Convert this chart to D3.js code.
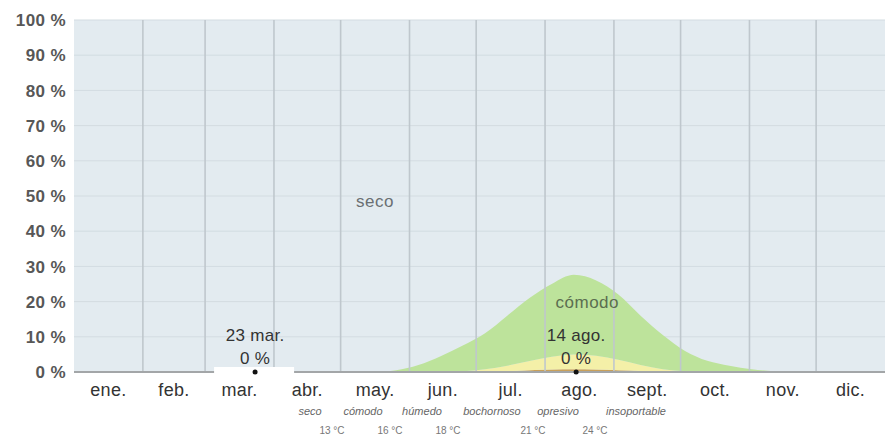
<!DOCTYPE html>
<html>
<head>
<meta charset="utf-8">
<script src="https://cdn.jsdelivr.net/npm/d3@7"></script>
<style>
	body { margin: 0; background: #fff; }
	text { font-family: "Liberation Sans", Arial, sans-serif; }
</style>
</head>
<body>
<div id="chart"></div>
<script>
// day of year samples and % of time per humidity level
var days = [0, 135, 145, 155, 165, 175, 185, 195, 205, 215, 225, 235, 245, 255, 265, 275, 285, 295, 305, 315, 325, 365];
var comodo = [0, 0, 0.5, 2, 4.5, 7.3, 10.2, 14.2, 17.9, 20.7, 22.6, 21.4, 18.5, 14, 9.7, 5.8, 3.2, 1.8, 0.8, 0.2, 0, 0];
var humedo = [0, 0, 0, 0, 0, 0.2, 0.8, 1.6, 2.6, 3.6, 4.2, 3.9, 3.0, 1.7, 0.7, 0.2, 0, 0, 0, 0, 0, 0];
var bochornoso = [0, 0, 0, 0, 0, 0, 0, 0.2, 0.5, 0.7, 0.8, 0.7, 0.5, 0.3, 0.1, 0, 0, 0, 0, 0, 0, 0];

var months = ["ene.", "feb.", "mar.", "abr.", "may.", "jun.", "jul.", "ago.", "sept.", "oct.", "nov.", "dic."];
var monthStart = [0, 31, 59, 90, 120, 151, 181, 212, 243, 273, 304, 334, 365];
var yTicks = [0, 10, 20, 30, 40, 50, 60, 70, 80, 90, 100];

var levels = ["seco", "cómodo", "húmedo", "bochornoso", "opresivo", "insoportable"];
var levelX = [310, 363, 422, 492, 558, 636];
var dewPoints = ["13 °C", "16 °C", "18 °C", "21 °C", "24 °C"];
var dewX = [332, 390, 448, 533, 595];

var markers = [{day: 81.5, label: "23 mar.", value: 0}, {day: 226, label: "14 ago.", value: 0}];

var W = 885, H = 436;
var margin = {top: 20, right: 0, bottom: 64, left: 74};
var width = W - margin.left - margin.right;
var height = H - margin.top - margin.bottom;

var svg = d3.select("#chart").append("svg")
	.attr("width", W)
	.attr("height", H);

var g = svg.append("g")
	.attr("transform", "translate(" + margin.left + "," + margin.top + ")");

var x = d3.scaleLinear().domain([0, 365]).range([0, width]);
var y = d3.scaleLinear().domain([0, 100]).range([height, 0]);

// background = seco
g.append("rect")
	.attr("width", width)
	.attr("height", height)
	.attr("fill", "#e3ebf0");

// horizontal grid
g.selectAll(".hgrid")
	.data(yTicks.slice(1))
	.enter().append("line")
	.attr("x1", 0).attr("x2", width)
	.attr("y1", function(d) { return y(d); })
	.attr("y2", function(d) { return y(d); })
	.attr("stroke", "#d3dce1")
	.attr("stroke-width", 1);

// stacked bands
var rows = days.map(function(d, i) {
	return {day: d, bochornoso: bochornoso[i], humedo: humedo[i], comodo: comodo[i]};
});
var stack = d3.stack().keys(["bochornoso", "humedo", "comodo"]);
var series = stack(rows);
var colors = {bochornoso: "#c9a05a", humedo: "#f4f0a8", comodo: "#bde39b"};

var area = d3.area()
	.curve(d3.curveMonotoneX)
	.x(function(d) { return x(d.data.day); })
	.y0(function(d) { return y(d[0]); })
	.y1(function(d) { return y(d[1]); });

g.selectAll(".band")
	.data(series)
	.enter().append("path")
	.attr("class", "band")
	.attr("d", area)
	.attr("fill", function(d) { return colors[d.key]; });

// vertical month lines
g.selectAll(".vgrid")
	.data(monthStart.slice(1, 12))
	.enter().append("line")
	.attr("x1", function(d) { return x(d); })
	.attr("x2", function(d) { return x(d); })
	.attr("y1", 0).attr("y2", height)
	.attr("stroke", "#bfc7cd")
	.attr("stroke-width", 1.6);

// baseline
g.append("line")
	.attr("x1", 0).attr("x2", width)
	.attr("y1", height).attr("y2", height)
	.attr("stroke", "#a3a6a8")
	.attr("stroke-width", 2);

// y axis labels
g.selectAll(".ylab")
	.data(yTicks)
	.enter().append("text")
	.attr("x", -8)
	.attr("y", function(d) { return y(d); })
	.attr("dy", "0.36em")
	.attr("text-anchor", "end")
	.attr("font-size", 17)
	.attr("font-weight", "bold")
	.attr("letter-spacing", 0.4)
	.attr("fill", "#575757")
	.text(function(d) { return d + " %"; });

// month labels
g.selectAll(".mlab")
	.data(months)
	.enter().append("text")
	.attr("x", function(d, i) { return x((monthStart[i] + monthStart[i + 1]) / 2); })
	.attr("y", height + 24)
	.attr("text-anchor", "middle")
	.attr("font-size", 18)
	.attr("letter-spacing", 0.3)
	.attr("fill", "#333")
	.text(function(d) { return d; });

// area labels
g.append("text")
	.attr("x", x(135.5)).attr("y", 187)
	.attr("text-anchor", "middle")
	.attr("font-size", 17)
	.attr("letter-spacing", 0.5)
	.attr("fill", "#6a6f73")
	.text("seco");

g.append("text")
	.attr("x", x(231)).attr("y", 288)
	.attr("text-anchor", "middle")
	.attr("font-size", 17)
	.attr("letter-spacing", 0.5)
	.attr("fill", "#5b6e50")
	.text("cómodo");

// markers
var mk = g.selectAll(".marker")
	.data(markers)
	.enter().append("g")
	.attr("transform", function(d) { return "translate(" + x(d.day) + ",0)"; });

mk.filter(function(d, i) { return i == 0; })
	.append("rect")
	.attr("x", -41).attr("y", height - 5)
	.attr("width", 80).attr("height", 10)
	.attr("fill", "#fff");

mk.append("text")
	.attr("y", height - 31)
	.attr("text-anchor", "middle")
	.attr("font-size", 17)
	.attr("letter-spacing", 0.3)
	.attr("fill", "#333")
	.text(function(d) { return d.label; });

mk.append("text")
	.attr("y", height - 8)
	.attr("text-anchor", "middle")
	.attr("font-size", 17)
	.attr("letter-spacing", 0.3)
	.attr("fill", "#333")
	.text(function(d) { return d.value + " %"; });

mk.append("circle")
	.attr("cx", 0)
	.attr("cy", function(d) { return y(d.value); })
	.attr("r", 2.5)
	.attr("fill", "#111");

// legend below
svg.selectAll(".lev")
	.data(levels)
	.enter().append("text")
	.attr("x", function(d, i) { return levelX[i]; })
	.attr("y", 415)
	.attr("text-anchor", "middle")
	.attr("font-size", 11)
	.attr("font-style", "italic")
	.attr("fill", "#666")
	.text(function(d) { return d; });

svg.selectAll(".dew")
	.data(dewPoints)
	.enter().append("text")
	.attr("x", function(d, i) { return dewX[i]; })
	.attr("y", 434)
	.attr("text-anchor", "middle")
	.attr("font-size", 10)
	.attr("fill", "#777")
	.text(function(d) { return d; });
</script>
</body>
</html>
